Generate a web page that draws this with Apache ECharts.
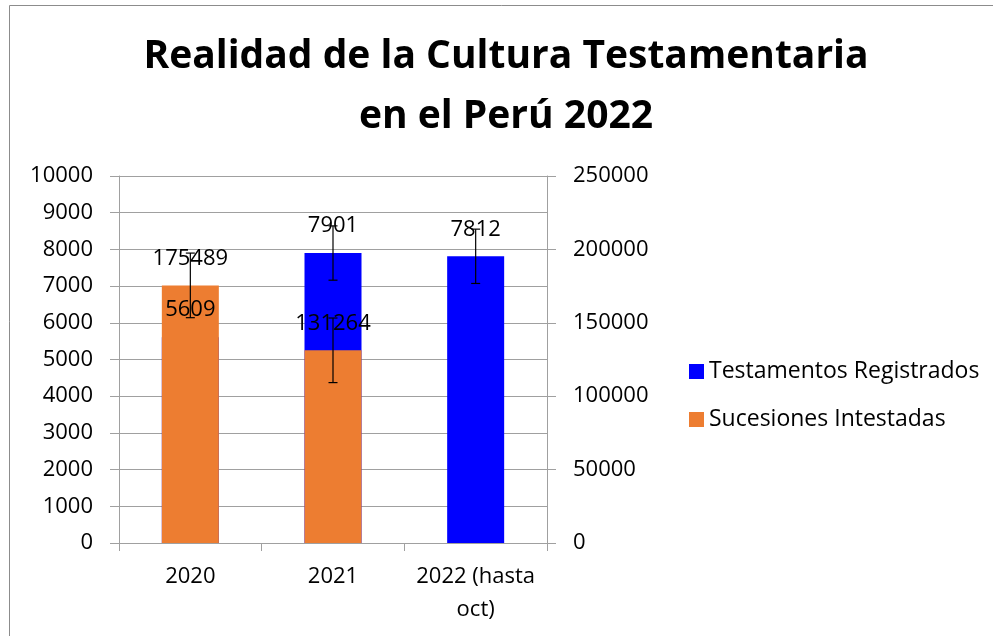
<!DOCTYPE html>
<html>
<head>
<meta charset="utf-8">
<script src="https://cdn.jsdelivr.net/npm/echarts@6/dist/echarts.min.js"></script>
<style>
html,body{margin:0;padding:0;background:#fff;}
#chart{width:993px;height:636px;}
</style>
</head>
<body>
<div id="chart"></div>
<script>
var years = ['2020', '2021', '2022 (hasta\noct)'];
var testamentos = [5609, 7901, 7812];
var sucesiones = [175489, 131264, null];
// error bar half-lengths (2020 blue one sits behind the orange bar)
var testamentosErr = [null, 740, 740];
var sucesionesErr = [22000, 22000, null];
var leftTicks = [0, 10000, 1000];
var rightTicks = [0, 250000, 50000];

var grey = '#a0a0a0';
var font = '"Open Sans", Lato, sans-serif';

function errData(values, errs) {
	var out = [];
	for (var i = 0; i < values.length; i++) {
		if (values[i] == null || errs[i] == null) continue;
		out.push([i, values[i], errs[i]]);
	}
	return out;
}

function errorBar(params, api) {
	var x = api.value(0);
	var hi = api.coord([x, api.value(1) + api.value(2)]);
	var lo = api.coord([x, api.value(1) - api.value(2)]);
	var w = 4.5;
	var st = {stroke: '#000', lineWidth: 1.2};
	return {
		type: 'group',
		children: [
			{type: 'line', shape: {x1: hi[0], y1: hi[1], x2: lo[0], y2: lo[1]}, style: st},
			{type: 'line', shape: {x1: hi[0] - w, y1: hi[1], x2: hi[0] + w, y2: hi[1]}, style: st},
			{type: 'line', shape: {x1: lo[0] - w, y1: lo[1], x2: lo[0] + w, y2: lo[1]}, style: st}
		]
	};
}

function plain(v) {
	return String(v);
}

var chart = echarts.init(document.getElementById('chart'));
var label = {
	show: true,
	position: 'top',
	distance: 16,
	color: '#000',
	fontSize: 22,
	fontFamily: font
};

var option = {
	backgroundColor: '#fff',
	animation: false,
	graphic: [{
		type: 'rect',
		shape: {x: 9.5, y: 5.5, width: 1100, height: 800},
		style: {fill: 'none', stroke: '#8c8c8c', lineWidth: 1},
		silent: true
	}],
	title: {
		text: 'Realidad de la Cultura Testamentaria\nen el Perú 2022',
		left: 506,
		top: 27,
		padding: 0,
		textAlign: 'center',
		textStyle: {
			fontFamily: font,
			fontSize: 39,
			fontWeight: 'bold',
			color: '#000',
			lineHeight: 60
		}
	},
	legend: {
		orient: 'vertical',
		left: 684,
		top: 355,
		itemWidth: 15,
		itemHeight: 15,
		itemGap: 25,
		icon: 'rect',
		data: ['Testamentos Registrados', 'Sucesiones Intestadas'],
		textStyle: {fontFamily: font, fontSize: 23, color: '#000'}
	},
	grid: {
		left: 119,
		right: 446,
		top: 176,
		bottom: 93,
		containLabel: false,
		outerBoundsMode: 'none'
	},
	xAxis: {
		type: 'category',
		data: years,
		axisLine: {lineStyle: {color: grey}},
		axisTick: {show: true, length: 8, lineStyle: {color: grey}},
		axisLabel: {
			color: '#000',
			fontFamily: font,
			fontSize: 22,
			lineHeight: 33,
			margin: 17,
			interval: 0
		}
	},
	yAxis: [{
		type: 'value',
		min: leftTicks[0],
		max: leftTicks[1],
		interval: leftTicks[2],
		axisLine: {show: true, lineStyle: {color: grey}},
		axisTick: {show: true, length: 9, lineStyle: {color: grey}},
		splitLine: {show: true, lineStyle: {color: grey}},
		axisLabel: {color: '#000', fontFamily: font, fontSize: 22, margin: 26, formatter: plain}
	}, {
		type: 'value',
		min: rightTicks[0],
		max: rightTicks[1],
		interval: rightTicks[2],
		axisLine: {show: true, lineStyle: {color: grey}},
		axisTick: {show: true, length: 9, lineStyle: {color: grey}},
		splitLine: {show: false},
		axisLabel: {color: '#000', fontFamily: font, fontSize: 22, margin: 26, formatter: plain}
	}],
	series: [{
		name: 'Testamentos Registrados',
		type: 'bar',
		yAxisIndex: 0,
		barWidth: 57,
		barGap: '-100%',
		itemStyle: {color: '#0000ff'},
		label: label,
		data: testamentos
	}, {
		type: 'custom',
		yAxisIndex: 0,
		z: 5,
		renderItem: errorBar,
		silent: true,
		data: errData(testamentos, testamentosErr)
	}, {
		name: 'Sucesiones Intestadas',
		type: 'bar',
		yAxisIndex: 1,
		barWidth: 57,
		barGap: '-100%',
		itemStyle: {color: '#ed7d31'},
		label: label,
		data: sucesiones
	}, {
		type: 'custom',
		yAxisIndex: 1,
		z: 5,
		renderItem: errorBar,
		silent: true,
		data: errData(sucesiones, sucesionesErr)
	}]
};
chart.setOption(option);
</script>
</body>
</html>
